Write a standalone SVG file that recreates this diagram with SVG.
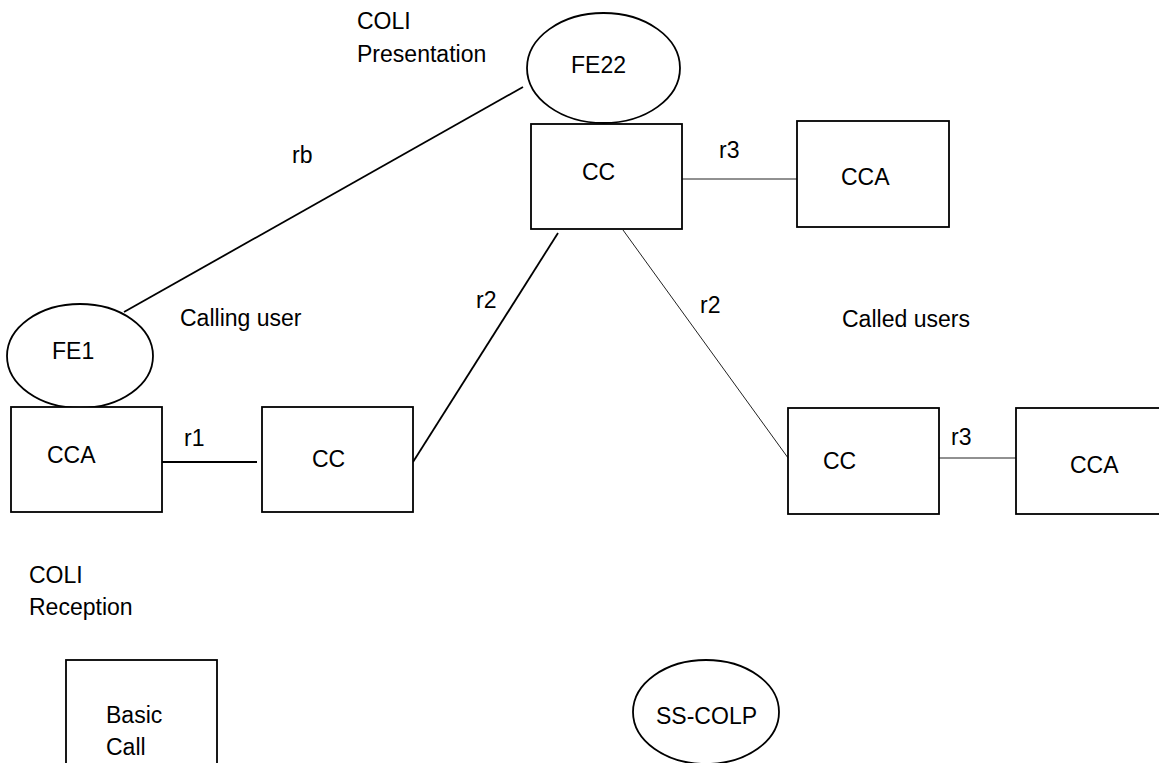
<svg xmlns="http://www.w3.org/2000/svg" width="1159" height="763" viewBox="0 0 1159 763">
<style>
  .shape { fill: #fff; stroke: #000; stroke-width: 1.8; }
  .t { font-family: "Liberation Sans", Arial, sans-serif; font-size: 24.5px; fill: #000;
       transform-box: fill-box; transform-origin: 0% 100%; transform: scaleX(0.94); }
  .thick { stroke: #000; stroke-width: 1.8; fill: none; }
  .thin { stroke: #222; stroke-width: 1; fill: none; }
</style>
<rect x="0" y="0" width="1159" height="763" fill="#fff"/>
<g id="connectors">
  <line class="thick" x1="124" y1="312" x2="523" y2="87"/>
  <line class="thick" x1="162" y1="462" x2="257" y2="462"/>
  <line class="thick" x1="413" y1="462" x2="558" y2="233"/>
  <line class="thin" x1="682" y1="179" x2="801" y2="179"/>
  <line class="thin" x1="623" y1="230" x2="791" y2="462"/>
  <line class="thin" x1="937" y1="458" x2="1020" y2="458"/>
</g>
<g id="labels">
  <text class="t" x="357" y="29">COLI</text>
  <text class="t" x="357" y="62">Presentation</text>
  <text class="t" x="292" y="163">rb</text>
  <text class="t" x="719" y="158">r3</text>
  <text class="t" x="180" y="326">Calling user</text>
  <text class="t" x="476" y="308">r2</text>
  <text class="t" x="700" y="313">r2</text>
  <text class="t" x="842" y="327">Called users</text>
  <text class="t" x="184" y="446">r1</text>
  <text class="t" x="951" y="445">r3</text>
  <text class="t" x="29" y="583">COLI</text>
  <text class="t" x="29" y="615">Reception</text>
</g>
<g id="FE22">
  <ellipse class="shape" cx="603.5" cy="68" rx="76.5" ry="55"/>
  <text class="t" x="571" y="73">FE22</text>
</g>
<g id="CC_top">
  <rect class="shape" x="531" y="124" width="151" height="105"/>
  <text class="t" x="582" y="180">CC</text>
</g>
<g id="CCA_top">
  <rect class="shape" x="797" y="121" width="152" height="106"/>
  <text class="t" x="841" y="185">CCA</text>
</g>
<g id="FE1">
  <ellipse class="shape" cx="80" cy="356" rx="73" ry="52"/>
  <text class="t" x="52" y="359">FE1</text>
</g>
<g id="CCA_left">
  <rect class="shape" x="11" y="407" width="151" height="105"/>
  <text class="t" x="47" y="463">CCA</text>
</g>
<g id="CC_mid">
  <rect class="shape" x="262" y="407" width="151" height="105"/>
  <text class="t" x="312" y="467">CC</text>
</g>
<g id="CC_right">
  <rect class="shape" x="788" y="408" width="151" height="106"/>
  <text class="t" x="823" y="469">CC</text>
</g>
<g id="CCA_right">
  <rect class="shape" x="1016" y="408" width="152" height="106"/>
  <text class="t" x="1070" y="473">CCA</text>
</g>
<g id="BasicCall">
  <rect class="shape" x="66" y="660" width="151" height="120"/>
  <text class="t" x="106" y="723">Basic</text>
  <text class="t" x="106" y="755">Call</text>
</g>
<g id="SS-COLP">
  <ellipse class="shape" cx="706" cy="712" rx="73" ry="52"/>
  <text class="t" x="656" y="724">SS-COLP</text>
</g>
</svg>
